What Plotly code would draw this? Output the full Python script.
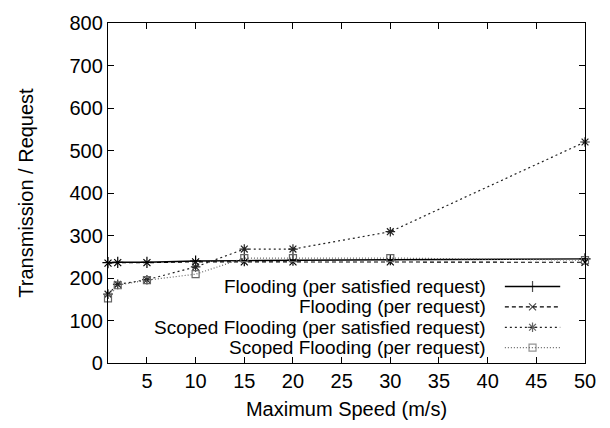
import plotly.graph_objects as go

# ---- data ----
speeds = [1, 2, 5, 10, 15, 20, 30, 50]
flood_sat = [236, 237, 237, 240, 241, 242, 243, 245]
flood_req = [235, 236, 236, 238, 238, 238, 238, 237]
scoped_sat = [162, 185, 196, 226, 268, 268, 309, 520]
scoped_req = [152, 183, 195, 209, 247, 247, 247, 242]

series_names = [
    "Flooding (per satisfied request)",
    "Flooding (per request)",
    "Scoped Flooding (per satisfied request)",
    "Scoped Flooding (per request)",
]
x_ticks = [5, 10, 15, 20, 25, 30, 35, 40, 45, 50]
y_ticks = [0, 100, 200, 300, 400, 500, 600, 700, 800]

FONT = "Liberation Sans, Arial, Helvetica, sans-serif"
FS = 20
LFS = 19

styles = [
    dict(color="black", dash="solid", symbol="cross-thin-open", width=1.4, msize=8),
    dict(color="black", dash="4px,3px", symbol="x-thin-open", width=1.1, msize=7),
    dict(color="#222", dash="2px,3px", symbol="asterisk-open", width=1.2, msize=8),
    dict(color="#666", dash="1px,2px", symbol="square-open", width=1.2, msize=7),
]
values = [flood_sat, flood_req, scoped_sat, scoped_req]

fig = go.Figure()
for name, vals, st in zip(series_names, values, styles):
    fig.add_trace(go.Scatter(
        x=speeds, y=vals, name=name, mode="lines+markers",
        line=dict(color=st["color"], dash=st["dash"], width=st["width"]),
        marker=dict(symbol=st["symbol"], size=st["msize"],
                    color=st["color"], line=dict(width=1.2, color=st["color"])),
        showlegend=False, cliponaxis=False,
    ))

# ---- gnuplot-style legend (text left, sample right) ----
legend_rows = [0.225, 0.165, 0.105, 0.045]
text_right = 0.797
sample_x = [0.832, 0.89, 0.948]
for name, st, yy in zip(series_names, styles, legend_rows):
    fig.add_annotation(x=text_right, y=yy, xref="paper", yref="paper",
                       text=name, showarrow=False, xanchor="right", yanchor="middle",
                       font=dict(family=FONT, size=LFS, color="black"))
    fig.add_trace(go.Scatter(
        x=sample_x, y=[yy, yy, yy], xaxis="x2", yaxis="y2",
        mode="lines+markers",
        line=dict(color=st["color"], dash=st["dash"], width=st["width"]),
        marker=dict(symbol=st["symbol"], size=[0, st["msize"], 0],
                    color=st["color"], line=dict(width=1.2, color=st["color"])),
        showlegend=False, hoverinfo="skip",
    ))

axis_common = dict(
    showline=True, linecolor="black", linewidth=1.4, mirror="ticks",
    ticks="inside", ticklen=6, tickcolor="black", tickwidth=1,
    showgrid=False, zeroline=False,
    tickfont=dict(family=FONT, size=FS, color="black"),
)

fig.update_layout(
    width=610, height=428,
    margin=dict(l=108, r=25, t=12, b=65),
    paper_bgcolor="white", plot_bgcolor="white",
    font=dict(family=FONT, size=FS, color="black"),
    xaxis=dict(range=[1, 50], tickvals=x_ticks,
               title=dict(text="Maximum Speed (m/s)", standoff=10,
                          font=dict(family=FONT, size=FS)),
               **axis_common),
    yaxis=dict(range=[0, 800], tickvals=y_ticks,
               title=dict(text="Transmission / Request", standoff=30,
                          font=dict(family=FONT, size=FS)),
               **axis_common),
    xaxis2=dict(overlaying="x", range=[0, 1], visible=False),
    yaxis2=dict(overlaying="y", range=[0, 1], visible=False),
)

fig.write_html("out.html", config={"displayModeBar": False},
               post_script="document.body.style.margin='0px';")
